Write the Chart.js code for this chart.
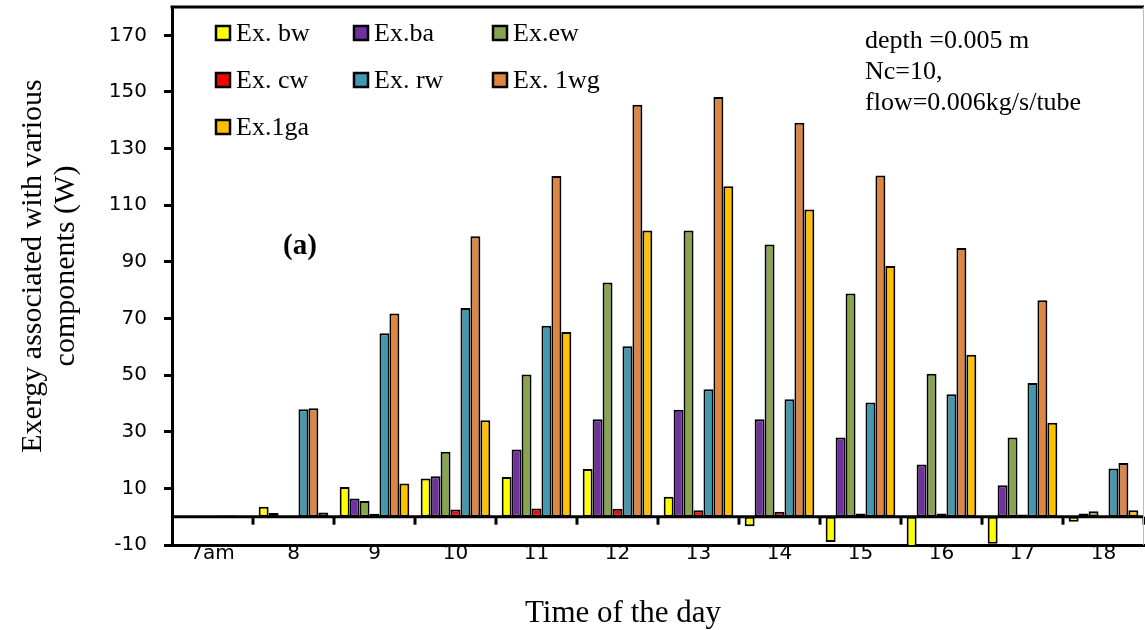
<!DOCTYPE html>
<html>
<head>
<meta charset="utf-8">
<script src="https://cdn.jsdelivr.net/npm/chart.js@4.4.1/dist/chart.umd.min.js"></script>
<style>
  html, body { margin: 0; padding: 0; background: #fff; }
  canvas { display: block; }
</style>
</head>
<body>
<canvas id="exergyChart" width="1145" height="630"></canvas>
<script>
// ======================
// DATA (W)
// ======================
const hours = ["7am", "8", "9", "10", "11", "12", "13", "14", "15", "16", "17", "18"];

const exBw  = [0, 3.5, 10.5, 13.5, 14, 16.8, 7, -3.4, -8.9, -12, -9.6, -1.8];
const exBa  = [0, 1.3, 6.4, 14.3, 23.7, 34.4, 37.8, 34.4, 28, 18.4, 11.1, 1.1];
const exEw  = [0, 0, 5.5, 22.9, 50.2, 82.7, 101.1, 96.1, 78.8, 50.5, 28, 1.9];
const exCw  = [0, 0, 1, 2.5, 2.9, 2.8, 2.3, 1.7, 1.1, 1.1, 0.8, 0];
const exRw  = [0.4, 37.9, 64.8, 73.7, 67.4, 60.2, 45, 41.5, 40.3, 43.2, 47.2, 17];
const ex1wg = [0.4, 38.3, 71.8, 99, 120.3, 145.5, 148.2, 139.1, 120.5, 94.9, 76.4, 19];
const ex1ga = [0, 1.5, 11.7, 34.1, 65.2, 101.1, 116.7, 108.5, 88.5, 57.2, 33.2, 2.3];

const yTicks = [-10, 10, 30, 50, 70, 90, 110, 130, 150, 170];

const yTitle = ["Exergy associated with various", "components (W)"];
const xTitle = "Time of the day";
const notes = ["depth =0.005 m", "Nc=10,", "flow=0.006kg/s/tube"];


// ======================
// HELPERS
// ======================
const SERIF = "'Liberation Serif', 'Times New Roman', serif";
const SANS = "'DejaVu Sans', sans-serif";

function barSet(label, data, color) {
    return {
        label: label,
        data: data,
        backgroundColor: color,
        borderColor: "#000",
        borderWidth: 2,
        borderSkipped: false
    };
}


// ======================
// EXTRA DRAWING
// ======================

// zero line with hour dividers hanging below it
const zeroLine = {
    id: "zeroLine",
    afterDatasetsDraw(chart) {
        const { ctx, chartArea, scales } = chart;
        const y0 = scales.y.getPixelForValue(0);
        const step = (chartArea.right - chartArea.left) / hours.length;

        ctx.save();
        ctx.strokeStyle = "#000";
        ctx.lineWidth = 3;
        ctx.beginPath();
        ctx.moveTo(chartArea.left, y0);
        ctx.lineTo(chartArea.right, y0);
        ctx.stroke();

        for (let i = 1; i <= hours.length; i++) {
            const x = Math.round(chartArea.left + i * step);
            ctx.beginPath();
            ctx.moveTo(x, y0);
            ctx.lineTo(x, y0 + 8);
            ctx.stroke();
        }
        ctx.restore();
    }
};

// top and right edges of the plot box
const frame = {
    id: "frame",
    afterDraw(chart) {
        const { ctx, chartArea } = chart;
        ctx.save();
        ctx.strokeStyle = "#000";
        ctx.lineWidth = 3;
        ctx.beginPath();
        ctx.moveTo(chartArea.left - 1.5, chartArea.top);
        ctx.lineTo(chartArea.right, chartArea.top);
        ctx.stroke();

        ctx.strokeStyle = "#bbb";
        ctx.lineWidth = 1;
        ctx.beginPath();
        ctx.moveTo(chartArea.right - 0.5, chartArea.top);
        ctx.lineTo(chartArea.right - 0.5, chartArea.bottom);
        ctx.stroke();
        ctx.restore();
    }
};

// axis titles
const axisTitles = {
    id: "axisTitles",
    afterDraw(chart) {
        const { ctx } = chart;
        ctx.save();
        ctx.fillStyle = "#000";
        ctx.textAlign = "center";
        ctx.textBaseline = "middle";
        ctx.font = "30px " + SERIF;

        ctx.save();
        ctx.translate(0, 266);
        ctx.rotate(-Math.PI / 2);
        yTitle.forEach((line, i) => ctx.fillText(line, 0, 33 + i * 33));
        ctx.restore();

        ctx.font = "31px " + SERIF;
        ctx.textBaseline = "alphabetic";
        ctx.fillText(xTitle, 623, 622);
        ctx.restore();
    }
};

// three column legend in the upper left corner
const gridLegend = {
    id: "gridLegend",
    afterDraw(chart) {
        const { ctx } = chart;
        const colX = [216, 354, 493];
        const rowY = [33, 80, 127];

        ctx.save();
        ctx.font = "26px " + SERIF;
        ctx.textBaseline = "alphabetic";
        ctx.textAlign = "left";

        chart.data.datasets.forEach((ds, i) => {
            const x = colX[i % 3];
            const y = rowY[Math.floor(i / 3)];

            ctx.fillStyle = ds.backgroundColor;
            ctx.fillRect(x, y - 7, 14, 14);
            ctx.strokeStyle = "#000";
            ctx.lineWidth = 2.5;
            ctx.strokeRect(x, y - 7, 14, 14);

            ctx.fillStyle = "#000";
            ctx.fillText(ds.label, x + 20, y + 8);
        });
        ctx.restore();
    }
};

// run conditions and panel tag
const notesText = {
    id: "notesText",
    afterDraw(chart) {
        const { ctx } = chart;
        ctx.save();
        ctx.fillStyle = "#000";
        ctx.textBaseline = "alphabetic";
        ctx.textAlign = "left";
        ctx.font = "26px " + SERIF;
        notes.forEach((line, i) => {
            ctx.fillText(line, 865, 48 + i * 31);
        });

        ctx.font = "bold 29px " + SERIF;
        ctx.textAlign = "center";
        ctx.textBaseline = "middle";
        ctx.fillText("(a)", 300, 247);
        ctx.restore();
    }
};


// ======================
// CHART SETUP
// ======================
const exergyChart = new Chart(document.getElementById("exergyChart"), {
    type: "bar",
    data: {
        labels: hours,
        datasets: [
            barSet("Ex. bw", exBw, "#FFFF00"),
            barSet("Ex.ba", exBa, "#7030A0"),
            barSet("Ex.ew", exEw, "#88A44C"),
            barSet("Ex. cw", exCw, "#FF0000"),
            barSet("Ex. rw", exRw, "#4198AF"),
            barSet("Ex. 1wg", ex1wg, "#DE8541"),
            barSet("Ex.1ga", ex1ga, "#FFC000")
        ]
    },
    options: {
        responsive: false,
        animation: false,
        devicePixelRatio: 1,
        layout: { padding: { top: 7, right: 1, left: 0, bottom: 0 } },
        datasets: {
            bar: { categoryPercentage: 0.86, barPercentage: 1 }
        },
        plugins: {
            legend: { display: false },
            tooltip: { enabled: false }
        },
        scales: {
            x: {
                grid: { display: false },
                border: { display: true, color: "#000", width: 3 },
                ticks: {
                    color: "#000",
                    font: { family: SANS, size: 20 },
                    padding: -11,
                    maxRotation: 0,
                    autoSkip: false
                },
                afterFit: s => { s.height = 85; }
            },
            y: {
                min: -10,
                max: 180,
                afterBuildTicks: s => { s.ticks = yTicks.map(v => ({ value: v })); },
                grid: {
                    drawOnChartArea: false,
                    drawTicks: true,
                    tickLength: 8,
                    tickWidth: 3,
                    tickColor: "#000"
                },
                border: { display: true, color: "#000", width: 3 },
                ticks: {
                    color: "#000",
                    font: { family: SANS, size: 20 },
                    padding: 17
                },
                afterFit: s => {
                    s.width = 172;
                    s.paddingTop = 0;
                    s.paddingBottom = 0;
                }
            }
        }
    },
    plugins: [zeroLine, frame, axisTitles, gridLegend, notesText]
});
</script>
</body>
</html>
